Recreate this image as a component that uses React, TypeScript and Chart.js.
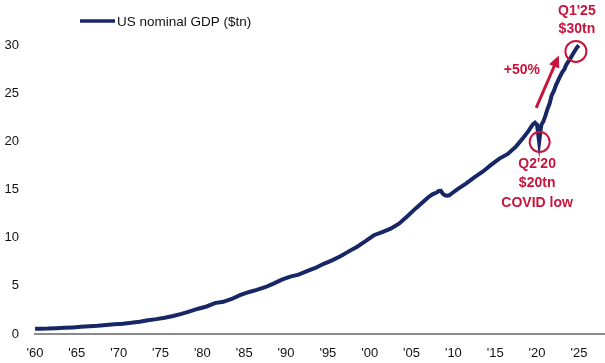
import React, { useEffect, useRef } from "react";
import { Chart, registerables } from "chart.js";

Chart.register(...registerables);

// Time positions (decimal years) and US nominal GDP ($tn)
const years = [
  1960.0, 1960.5, 1961.5, 1962.5, 1963.5, 1964.5, 1965.5, 1966.5, 1967.5, 1968.5, 1969.5,
  1970.5, 1971.5, 1972.5, 1973.5, 1974.5, 1975.5, 1976.5, 1977.5, 1978.5, 1979.5,
  1980.5, 1981.5, 1982.5, 1983.5, 1984.5, 1985.5, 1986.5, 1987.5, 1988.5, 1989.5,
  1990.5, 1991.5, 1992.5, 1993.5, 1994.5, 1995.5, 1996.5, 1997.5, 1998.5, 1999.5,
  2000.5, 2001.5, 2002.5, 2003.5, 2004.5, 2005.5, 2006.5, 2007.0, 2007.5,
  2008.0, 2008.25, 2008.5, 2008.75, 2009.0, 2009.25, 2009.5, 2009.75,
  2010.5, 2011.5, 2012.5, 2013.5, 2014.5, 2015.5, 2016.5, 2017.5, 2018.5,
  2019.0, 2019.25, 2019.5, 2019.75, 2020.0, 2020.25, 2020.5, 2020.75,
  2021.0, 2021.25, 2021.5, 2021.75, 2022.0, 2022.25, 2022.5, 2022.75,
  2023.0, 2023.25, 2023.5, 2023.75, 2024.0, 2024.25, 2024.5, 2024.75, 2025.0,
];
const gdp = [
  0.54, 0.543, 0.563, 0.605, 0.638, 0.686, 0.744, 0.815, 0.862, 0.943, 1.019,
  1.073, 1.165, 1.28, 1.425, 1.545, 1.685, 1.873, 2.082, 2.352, 2.627,
  2.857, 3.207, 3.343, 3.634, 4.037, 4.339, 4.579, 4.855, 5.236, 5.642,
  5.963, 6.158, 6.52, 6.859, 7.287, 7.64, 8.073, 8.578, 9.063, 9.631,
  10.251, 10.582, 10.929, 11.457, 12.217, 13.039, 13.816, 14.2, 14.5,
  14.68, 14.84, 14.86, 14.56, 14.39, 14.35, 14.4, 14.56,
  15.049, 15.6, 16.254, 16.843, 17.551, 18.206, 18.695, 19.477, 20.533,
  21.1, 21.45, 21.75, 21.93, 21.73, 19.94, 21.68, 22.07,
  22.66, 23.37, 23.92, 24.78, 25.21, 25.81, 26.27, 26.73,
  27.16, 27.45, 27.97, 28.3, 28.62, 29.02, 29.37, 29.72, 29.96,
];
const yTicks = [0, 5, 10, 15, 20, 25, 30];
const xTickYears = [1960, 1965, 1970, 1975, 1980, 1985, 1990, 1995, 2000, 2005, 2010, 2015, 2020, 2025];
const legendLabel = "US nominal GDP ($tn)";
const peakLabel = ["Q1'25", "$30tn"];
const lowLabel = ["Q2'20", "$20tn", "COVID low"];
const growthLabel = "+50%";
const lowPoint = { x: 2020.25, y: 19.94 };
const highPoint = { x: 2025.0, y: 29.96 };

const NAVY = "#172766";
const RED = "#c8143c";
const FONT = "'Liberation Sans', Arial, sans-serif";

const annotations = {
  id: "annotations",
  afterDatasetsDraw(chart: any) {
    const ctx = chart.ctx;
    const xs = chart.scales.x;
    const ys = chart.scales.y;
    ctx.save();

    // legend
    ctx.strokeStyle = NAVY;
    ctx.lineWidth = 3.5;
    ctx.beginPath();
    ctx.moveTo(80, 21);
    ctx.lineTo(115, 21);
    ctx.stroke();
    ctx.fillStyle = "#111";
    ctx.font = `13.5px ${FONT}`;
    ctx.textAlign = "left";
    ctx.textBaseline = "middle";
    ctx.fillText(legendLabel, 117, 22);

    // circles
    const lx = xs.getPixelForValue(lowPoint.x);
    const ly = ys.getPixelForValue(lowPoint.y);
    const hx = xs.getPixelForValue(highPoint.x);
    const hy = ys.getPixelForValue(highPoint.y);
    ctx.strokeStyle = RED;
    ctx.lineWidth = 2;
    ctx.beginPath();
    ctx.arc(lx + 0.5, ly, 10, 0, Math.PI * 2);
    ctx.stroke();
    ctx.beginPath();
    ctx.arc(hx - 3, hy + 6, 10.5, 0, Math.PI * 2);
    ctx.stroke();

    // arrow
    const ax0 = lx - 3, ay0 = ly - 34;
    const ax1 = hx - 20, ay1 = hy + 10;
    const ang = Math.atan2(ay1 - ay0, ax1 - ax0);
    ctx.lineWidth = 3;
    ctx.beginPath();
    ctx.moveTo(ax0, ay0);
    ctx.lineTo(ax1 - Math.cos(ang) * 8, ay1 - Math.sin(ang) * 8);
    ctx.stroke();
    ctx.fillStyle = RED;
    ctx.beginPath();
    ctx.moveTo(ax1, ay1);
    ctx.lineTo(ax1 - Math.cos(ang) * 12 + Math.sin(ang) * 5.5, ay1 - Math.sin(ang) * 12 - Math.cos(ang) * 5.5);
    ctx.lineTo(ax1 - Math.cos(ang) * 12 - Math.sin(ang) * 5.5, ay1 - Math.sin(ang) * 12 + Math.cos(ang) * 5.5);
    ctx.closePath();
    ctx.fill();

    // texts
    ctx.font = `bold 14px ${FONT}`;
    ctx.textAlign = "center";
    ctx.textBaseline = "middle";
    ctx.fillText(peakLabel[0], hx - 2, 11);
    ctx.fillText(peakLabel[1], hx - 2, 29);
    ctx.fillText(growthLabel, hx - 57, 70);
    lowLabel.forEach((t, i) => ctx.fillText(t, lx - 2, ly + 22 + i * 19.5));

    ctx.restore();
  },
};

export default function App() {
  const ref = useRef<HTMLCanvasElement>(null);
  useEffect(() => {
    const chart = new Chart(ref.current as HTMLCanvasElement, {
      type: "line",
      data: {
        datasets: [
          {
            label: legendLabel,
            data: years.map((x, i) => ({ x, y: gdp[i] })),
            borderColor: NAVY,
            borderWidth: 4,
            pointRadius: 0,
            tension: 0,
            clip: false as any,
          },
        ],
      },
      options: {
        animation: false,
        responsive: false,
        layout: { padding: { top: 45, right: 1, left: 0, bottom: 0 } },
        plugins: { legend: { display: false }, tooltip: { enabled: false } },
        scales: {
          x: {
            type: "linear",
            min: 1960,
            max: 2028,
            afterFit: (s: any) => { s.height = 29; },
            afterBuildTicks: (s: any) => { s.ticks = xTickYears.map((v) => ({ value: v })); },
            grid: { display: false, drawTicks: false },
            border: { display: true, color: "#8a8a8a", width: 2 },
            ticks: {
              padding: 12,
              maxRotation: 0,
              autoSkip: false,
              color: "#111",
              font: { family: FONT, size: 13 },
              callback: (v: any) => "'" + String(v).slice(2),
            },
          },
          y: {
            min: 0,
            max: 30,
            afterFit: (s: any) => { s.width = 35; },
            afterBuildTicks: (s: any) => { s.ticks = yTicks.map((v) => ({ value: v })); },
            grid: { display: false, drawTicks: false },
            border: { display: false },
            ticks: {
              padding: 16,
              color: "#111",
              font: { family: FONT, size: 13 },
            },
          },
        },
      },
      plugins: [annotations],
    });
    return () => chart.destroy();
  }, []);
  return (
    <div style={{ position: "absolute", left: 0, top: 0, width: 605, height: 363, background: "#fff" }}>
      <canvas ref={ref} width={605} height={363} />
    </div>
  );
}
